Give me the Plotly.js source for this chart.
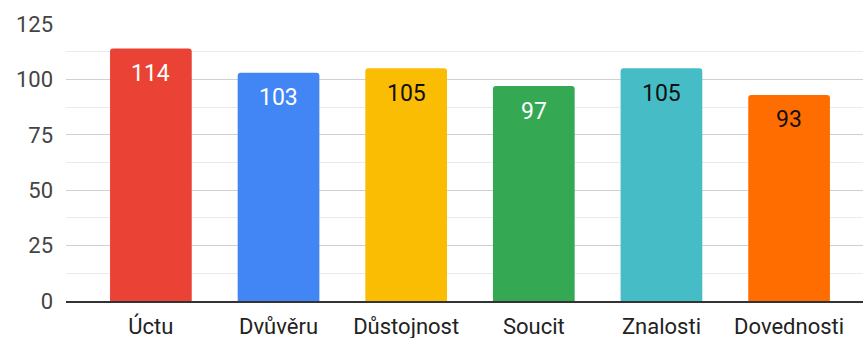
<!DOCTYPE html>
<html>
<head>
<meta charset="utf-8">
<script src="https://cdn.plot.ly/plotly-3.0.1.min.js"></script>
<style>html,body{margin:0;padding:0;background:#fff;}#chart{width:863px;height:338px;}</style>
</head>
<body>
<div id="chart"></div>
<script>
const categories = ["Úctu", "Dvůvěru", "Důstojnost", "Soucit", "Znalosti", "Dovednosti"];
const values = [114, 103, 105, 97, 105, 93];
const barColors = ["#EA4335", "#4285F4", "#FBBC04", "#34A853", "#46BDC6", "#FF6D01"];
const labelColors = ["#ffffff", "#ffffff", "#111111", "#ffffff", "#111111", "#111111"];
const yTicks = [0, 25, 50, 75, 100, 125];

const trace = {
  type: "bar",
  x: categories,
  y: values,
  marker: { color: barColors, cornerradius: 3 },
  hoverinfo: "none"
};

const annotations = categories.map((c, i) => ({
  x: c, y: values[i], xref: "x", yref: "y",
  text: String(values[i]), showarrow: false,
  yanchor: "middle", yshift: -25,
  font: { family: "Roboto, sans-serif", size: 23, color: labelColors[i] }
}));

const layout = {
  width: 863, height: 338,
  margin: { l: 66, r: 0, t: 24, b: 37, pad: 0 },
  paper_bgcolor: "#ffffff", plot_bgcolor: "#ffffff",
  showlegend: false,
  bargap: 0.36,
  font: { family: "Roboto, sans-serif" },
  xaxis: {
    type: "category",
    range: [-0.665, 5.579],
    showgrid: false, zeroline: false,
    showline: true, linecolor: "#333333", linewidth: 2,
    ticks: "", ticklabelstandoff: 5,
    tickfont: { family: "Roboto, sans-serif", size: 22, color: "#222222" }
  },
  yaxis: {
    range: [0, 125],
    tickvals: yTicks,
    ticktext: yTicks.map(String),
    showgrid: true, gridcolor: "#d0d0d0", gridwidth: 1,
    minor: { dtick: 12.5, showgrid: true, gridcolor: "#ebebeb", gridwidth: 1 },
    zeroline: false, showline: false,
    ticks: "", ticklabelstandoff: 12,
    tickfont: { family: "Roboto, sans-serif", size: 22, color: "#444444" }
  },
  annotations: annotations
};

Plotly.newPlot("chart", [trace], layout, { displayModeBar: false, staticPlot: true });
</script>
</body>
</html>
